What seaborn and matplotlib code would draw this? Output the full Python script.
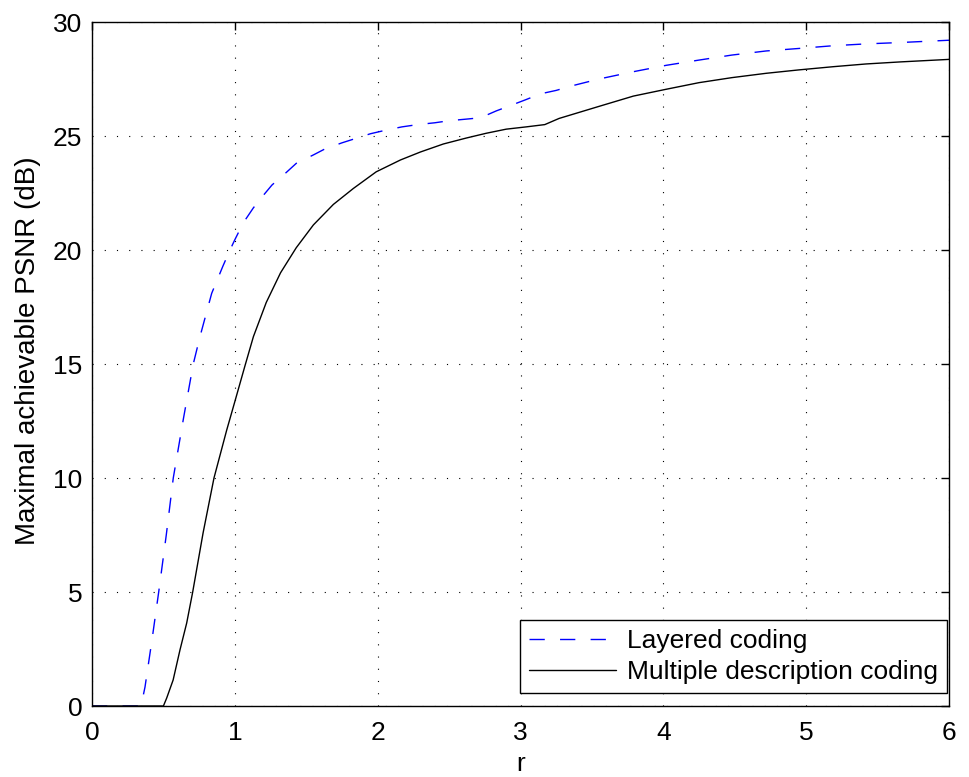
import matplotlib
matplotlib.use("Agg")
import matplotlib.pyplot as plt
import seaborn as sns
import pandas as pd

# Layered coding (blue dashed)
r_layered = [0.0, 0.345, 0.36, 0.371, 0.42, 0.467, 0.52, 0.569, 0.64, 0.709, 0.756,
             0.838, 0.917, 0.966, 1.0, 1.06, 1.13, 1.2, 1.26, 1.36, 1.43, 1.55,
             1.63, 1.75, 1.85, 1.95, 2.06, 2.17, 2.28, 2.4, 2.5, 2.62, 2.72,
             2.83, 2.94, 3.04, 3.14, 3.25, 3.36, 3.55, 3.79, 4.02, 4.25, 4.48,
             4.72, 4.95, 5.19, 5.42, 5.66, 6.0]
psnr_layered = [0.0, 0.0, 0.5, 0.83, 2.9, 5.0, 7.5, 10.0, 12.6, 15.0, 16.2,
                18.1, 19.3, 20.0, 20.45, 21.2, 21.85, 22.4, 22.85, 23.4, 23.8, 24.17,
                24.43, 24.7, 24.9, 25.1, 25.26, 25.4, 25.5, 25.58, 25.67, 25.74, 25.8,
                26.1, 26.36, 26.6, 26.85, 27.0, 27.2, 27.5, 27.82, 28.1, 28.33, 28.55,
                28.73, 28.84, 28.96, 29.04, 29.1, 29.2]

# Multiple description coding (black solid)
r_mdc = [0.0, 0.50, 0.523, 0.568, 0.616, 0.663, 0.705, 0.778, 0.854, 0.943, 1.0,
         1.07, 1.13, 1.22, 1.32, 1.43, 1.55, 1.69, 1.83, 1.99, 2.16, 2.3, 2.46,
         2.62, 2.76, 2.9, 3.04, 3.17, 3.27, 3.55, 3.79, 4.02, 4.25, 4.48, 4.72,
         4.95, 5.19, 5.42, 5.66, 6.0]
psnr_mdc = [0.0, 0.0, 0.35, 1.14, 2.46, 3.64, 5.0, 7.6, 10.0, 12.1, 13.35,
            14.9, 16.2, 17.7, 19.0, 20.1, 21.1, 22.0, 22.7, 23.43, 23.95, 24.3, 24.65,
            24.91, 25.12, 25.3, 25.4, 25.5, 25.77, 26.3, 26.75, 27.05, 27.34, 27.56, 27.75,
            27.9, 28.04, 28.16, 28.25, 28.36]

labels = ["Layered coding", "Multiple description coding"]
x_ticks = [0, 1, 2, 3, 4, 5, 6]
y_ticks = [0, 5, 10, 15, 20, 25, 30]

df = pd.concat([
    pd.DataFrame({"r": r_layered, "psnr": psnr_layered, "scheme": labels[0]}),
    pd.DataFrame({"r": r_mdc, "psnr": psnr_mdc, "scheme": labels[1]}),
], ignore_index=True)

sns.set_style("white")
plt.rcParams["font.family"] = ["Liberation Sans", "DejaVu Sans"]
plt.rcParams["text.color"] = "black"
plt.rcParams["axes.labelcolor"] = "black"

fig = plt.figure(figsize=(9.69, 7.77), dpi=100)
ax = fig.add_axes([92/969, 1-706/777, (949-92)/969, (706-22)/777])

sns.lineplot(data=df, x="r", y="psnr", hue="scheme", style="scheme",
             palette={labels[0]: "#0000ff", labels[1]: "#000000"},
             dashes={labels[0]: (11, 11), labels[1]: ""},
             linewidth=1.0, sort=False, estimator=None, ax=ax)

ax.set_xlim(0, 6)
ax.set_ylim(0, 30)
ax.set_xticks(x_ticks)
ax.set_yticks(y_ticks)
ax.set_xticklabels([str(t) for t in x_ticks])
ax.set_yticklabels([str(t) for t in y_ticks])
ax.tick_params(direction="in", length=6, width=1, labelsize=19, top=True, right=True,
               colors="black", labelcolor="black")
ax.tick_params(axis="x", pad=11)
ax.tick_params(axis="y", pad=7)
ax.grid(True, linestyle=(0, (1, 10)), color="black", linewidth=0.8)
for s in ax.spines.values():
    s.set_color("black")
    s.set_linewidth(1.0)
ax.set_xlabel("r", fontsize=19, labelpad=5, color="black")
ax.set_ylabel("Maximal achievable PSNR (dB)", fontsize=20, color="black")
ax.yaxis.set_label_coords(-0.060, 0.52)

leg = ax.legend(loc="lower right", bbox_to_anchor=((947-92)/857, 13/684),
                fontsize=19, frameon=True, fancybox=False,
                edgecolor="black", framealpha=1, handlelength=3.3,
                borderaxespad=0.0, labelspacing=0.25, borderpad=0.35,
                handletextpad=0.4)
leg.get_frame().set_linewidth(1.0)
for t in leg.get_texts():
    t.set_color("black")

fig.savefig("out.png", dpi=100)
